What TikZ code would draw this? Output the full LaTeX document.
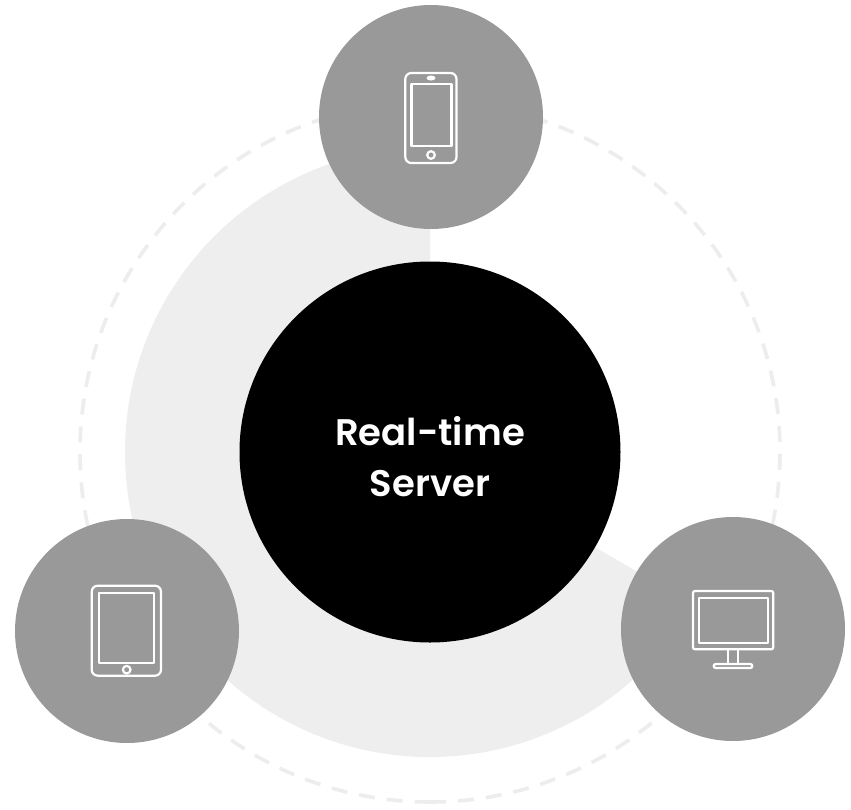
\documentclass[tikz,border=0pt]{standalone}
\usepackage{fontspec}
\setmainfont{Poppins}[BoldFont={Poppins SemiBold}]
\definecolor{devgrey}{HTML}{999999}
\definecolor{sectorgrey}{HTML}{EEEEEE}
\definecolor{ringgrey}{HTML}{EDEDED}
\tikzset{
  device/.style={circle,fill=devgrey,minimum size=224pt,inner sep=0pt,outer sep=0pt},
  server/.style={circle,fill=black,minimum size=381pt,inner sep=0pt,outer sep=0pt},
  servertext/.style={text=white,align=center,inner sep=0pt,font=\fontsize{37}{51}\selectfont\bfseries},
  ring/.style={draw=ringgrey,line width=3.6pt,dash pattern=on 16pt off 12pt},
  icon/.style={draw=white,line width=2.2pt,line join=round}
}
\begin{document}
\begin{tikzpicture}[x=1pt,y=-1pt]
\useasboundingbox (0,0) rectangle (851,809);
\fill[white] (0,0) rectangle (851,809);
\coordinate (c) at (430,452);
\draw[ring] (c) ++(0,350) arc[start angle=270,end angle=630,radius=350pt];
\fill[sectorgrey] (c) -- ++(90:305pt) arc[start angle=90,end angle=330,radius=305pt] -- cycle;
\node[device] (top) at (431,117) {};
\node[device] (left) at (127,631) {};
\node[device] (right) at (733,629) {};
\node[server] (srv) at (c) {};
\node[servertext] (srvtext) at (430,457) {Real-time\\Server};
% phone
\draw[icon,rounded corners=6pt] (405.3,73) rectangle (456.5,163);
\draw[icon] (411.5,84.3) rectangle (451.5,145.7);
\fill[white] (431,78) ellipse [x radius=4.5pt,y radius=2.5pt];
\draw[icon] (431,155) circle [radius=3.8pt];
% tablet
\draw[icon,rounded corners=6pt] (91.7,585.7) rectangle (161,675.7);
\draw[icon] (98.7,593.3) rectangle (153.7,663.3);
\draw[icon] (126.7,669.7) circle [radius=3.8pt];
% monitor
\draw[icon,rounded corners=2pt] (693,591) rectangle (773.3,649.3);
\draw[icon] (699.3,598) rectangle (768,642.7);
\draw[icon] (727.7,650) -- (727.7,663.5) (738.3,650) -- (738.3,663.5);
\draw[icon,rounded corners=2pt] (713.7,664) rectangle (752.3,668);
\end{tikzpicture}
\end{document}
